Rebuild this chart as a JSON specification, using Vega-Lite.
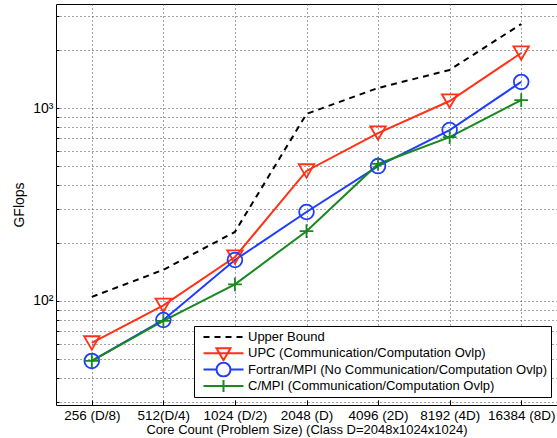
{
  "$schema": "https://vega.github.io/schema/vega-lite/v6.json",
  "width": 501,
  "height": 401,
  "autosize": "none",
  "padding": {"left": 56, "top": 4, "right": 0, "bottom": 33},
  "background": "white",
  "config": {
    "font": "Liberation Sans",
    "view": {"stroke": "black", "strokeWidth": 1}
  },
  "data": {
    "values": [
      {"series": "Upper Bound", "core": "256 (D/8)", "gflops": 105},
      {"series": "Upper Bound", "core": "512(D/4)", "gflops": 145},
      {"series": "Upper Bound", "core": "1024 (D/2)", "gflops": 228},
      {"series": "Upper Bound", "core": "2048 (D)", "gflops": 932},
      {"series": "Upper Bound", "core": "4096 (2D)", "gflops": 1270},
      {"series": "Upper Bound", "core": "8192 (4D)", "gflops": 1575},
      {"series": "Upper Bound", "core": "16384 (8D)", "gflops": 2725},
      {"series": "UPC (Communication/Computation Ovlp)", "core": "256 (D/8)", "gflops": 60.6},
      {"series": "UPC (Communication/Computation Ovlp)", "core": "512(D/4)", "gflops": 95},
      {"series": "UPC (Communication/Computation Ovlp)", "core": "1024 (D/2)", "gflops": 169},
      {"series": "UPC (Communication/Computation Ovlp)", "core": "2048 (D)", "gflops": 472},
      {"series": "UPC (Communication/Computation Ovlp)", "core": "4096 (2D)", "gflops": 742},
      {"series": "UPC (Communication/Computation Ovlp)", "core": "8192 (4D)", "gflops": 1087},
      {"series": "UPC (Communication/Computation Ovlp)", "core": "16384 (8D)", "gflops": 1928},
      {"series": "Fortran/MPI (No Communication/Computation Ovlp)", "core": "256 (D/8)", "gflops": 48.9},
      {"series": "Fortran/MPI (No Communication/Computation Ovlp)", "core": "512(D/4)", "gflops": 79.7},
      {"series": "Fortran/MPI (No Communication/Computation Ovlp)", "core": "1024 (D/2)", "gflops": 163},
      {"series": "Fortran/MPI (No Communication/Computation Ovlp)", "core": "2048 (D)", "gflops": 289},
      {"series": "Fortran/MPI (No Communication/Computation Ovlp)", "core": "4096 (2D)", "gflops": 500},
      {"series": "Fortran/MPI (No Communication/Computation Ovlp)", "core": "8192 (4D)", "gflops": 769},
      {"series": "Fortran/MPI (No Communication/Computation Ovlp)", "core": "16384 (8D)", "gflops": 1365},
      {"series": "C/MPI (Communication/Computation Ovlp)", "core": "256 (D/8)", "gflops": 48.9},
      {"series": "C/MPI (Communication/Computation Ovlp)", "core": "512(D/4)", "gflops": 78.8},
      {"series": "C/MPI (Communication/Computation Ovlp)", "core": "1024 (D/2)", "gflops": 122},
      {"series": "C/MPI (Communication/Computation Ovlp)", "core": "2048 (D)", "gflops": 230},
      {"series": "C/MPI (Communication/Computation Ovlp)", "core": "4096 (2D)", "gflops": 513},
      {"series": "C/MPI (Communication/Computation Ovlp)", "core": "8192 (4D)", "gflops": 707},
      {"series": "C/MPI (Communication/Computation Ovlp)", "core": "16384 (8D)", "gflops": 1100}
    ]
  },
  "encoding": {
    "x": {
      "field": "core", "type": "nominal",
      "sort": ["256 (D/8)", "512(D/4)", "1024 (D/2)", "2048 (D)", "4096 (2D)", "8192 (4D)", "16384 (8D)"],
      "scale": {"type": "point", "padding": 0.5},
      "axis": {
        "title": "Core Count (Problem Size) (Class D=2048x1024x1024)",
        "titleFont": "Liberation Sans", "titleFontSize": 13, "titleFontWeight": "normal", "titleColor": "black", "titlePadding": 2,
        "labelFont": "Liberation Sans", "labelFontSize": 13.5, "labelColor": "black", "labelAngle": 0, "labelPadding": 8,
        "domain": false, "tickColor": "black", "tickSize": -5,
        "grid": true, "gridColor": "#444", "gridDash": [1, 3], "gridWidth": 1
      }
    },
    "y": {
      "field": "gflops", "type": "quantitative",
      "scale": {"type": "log", "domain": [28.9, 3460], "nice": false, "zero": false},
      "axis": {
        "title": "GFlops",
        "titleFont": "Liberation Sans", "titleFontSize": 14, "titleFontWeight": "normal", "titleColor": "black", "titlePadding": 6,
        "values": [30, 40, 50, 60, 70, 80, 90, 100, 200, 300, 400, 500, 600, 700, 800, 900, 1000, 2000, 3000],
        "labelExpr": "datum.value == 100 ? '10²' : datum.value == 1000 ? '10³' : ''",
        "labelFont": "Liberation Sans", "labelFontSize": 14, "labelColor": "black", "labelPadding": 6,
        "domain": false, "tickColor": "black", "tickSize": -3,
        "grid": true, "gridColor": "#444", "gridDash": [1, 3], "gridWidth": 1
      }
    },
    "color": {
      "field": "series", "type": "nominal",
      "scale": {
        "domain": ["Upper Bound", "UPC (Communication/Computation Ovlp)", "Fortran/MPI (No Communication/Computation Ovlp)", "C/MPI (Communication/Computation Ovlp)"],
        "range": ["#000000", "#ff3116", "#1f3cff", "#17891d"]
      },
      "legend": {
        "title": null,
        "orient": "none", "legendX": 138, "legendY": 322,
        "padding": 3, "rowPadding": 0.3, "clipHeight": 16,
        "fillColor": "white", "strokeColor": "black",
        "labelFont": "Liberation Sans", "labelFontSize": 13, "labelColor": "black", "labelOffset": 38, "labelLimit": 400,
        "symbolSize": 4, "symbolStrokeWidth": 2,
        "encode": {
          "legend": {"update": {"strokeWidth": {"value": 1}}},
          "symbols": {
            "update": {
              "shape": {"signal": "datum.value === 'Upper Bound' ? 'M0,0H6M11,0H17M22,0H28M33,0H39' : datum.value === 'UPC (Communication/Computation Ovlp)' ? 'M0,0H40M13,-5L27,-5L20,7Z' : datum.value === 'Fortran/MPI (No Communication/Computation Ovlp)' ? 'M0,0H13M27,0H40M27,0L26.47,2.68L24.95,4.95L22.68,6.47L20,7L17.32,6.47L15.05,4.95L13.53,2.68L13,0L13.53,-2.68L15.05,-4.95L17.32,-6.47L20,-7L22.68,-6.47L24.95,-4.95L26.47,-2.68Z' : 'M0,0H40M20,-6V6'"},
              "fill": {"value": "transparent"},
              "strokeWidth": {"value": 2}
            }
          }
        }
      }
    }
  },
  "layer": [
    {
      "transform": [{"filter": "datum.series === 'Upper Bound'"}],
      "mark": {"type": "line", "strokeWidth": 2, "strokeDash": [6, 5]}
    },
    {
      "transform": [{"filter": "datum.series !== 'Upper Bound'"}],
      "mark": {"type": "line", "strokeWidth": 2}
    },
    {
      "transform": [{"filter": "datum.series !== 'Upper Bound'"}],
      "mark": {"type": "point", "filled": false, "strokeWidth": 1.8, "opacity": 1},
      "encoding": {
        "shape": {
          "field": "series", "type": "nominal",
          "scale": {
            "domain": ["UPC (Communication/Computation Ovlp)", "Fortran/MPI (No Communication/Computation Ovlp)", "C/MPI (Communication/Computation Ovlp)"],
            "range": ["triangle-down", "circle", "M-1,0H1M0,-1V1"]
          },
          "legend": null
        },
        "size": {
          "field": "series", "type": "nominal",
          "scale": {
            "domain": ["UPC (Communication/Computation Ovlp)", "Fortran/MPI (No Communication/Computation Ovlp)", "C/MPI (Communication/Computation Ovlp)"],
            "range": [240, 190, 150]
          },
          "legend": null
        }
      }
    }
  ]
}
